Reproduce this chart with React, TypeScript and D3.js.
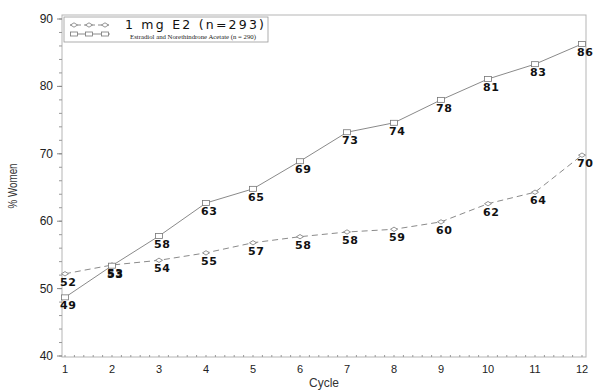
import React, { useEffect, useRef } from 'react'
import * as d3 from 'd3'

// cycles on the x axis
const cycles = [1, 2, 3, 4, 5, 6, 7, 8, 9, 10, 11, 12]

// 1 mg E2 (dashed, diamonds)
const e2Values = [52.2, 53.5, 54.2, 55.3, 56.8, 57.7, 58.4, 58.8, 59.9, 62.6, 64.3, 69.8]
const e2Labels = ['52', '53', '54', '55', '57', '58', '58', '59', '60', '62', '64', '70']

// Estradiol and Norethindrone Acetate (solid, squares)
const netaValues = [48.7, 53.4, 57.8, 62.7, 64.8, 68.9, 73.2, 74.6, 78.0, 81.1, 83.3, 86.3]
const netaLabels = ['49', '53', '58', '63', '65', '69', '73', '74', '78', '81', '83', '86']

const yTicks = [40, 50, 60, 70, 80, 90]

const App = () => {
  const ref = useRef<SVGSVGElement>(null)

  useEffect(() => {
    const svg = d3.select(ref.current)
    svg.selectAll('*').remove()

    const left = 62, right = 586, top = 15, bottom = 357
    const x = d3.scaleLinear().domain([1, 12]).range([65, 582])
    const y = d3.scaleLinear().domain([40, 90]).range([356, 19])
    const grey = '#8a8a8a'
    const sans = '"Liberation Sans", Arial, sans-serif'
    const wide = '"DejaVu Sans", Verdana, sans-serif'

    // frame
    svg.append('rect')
      .attr('x', left).attr('y', top)
      .attr('width', right - left).attr('height', bottom - top)
      .attr('fill', 'none').attr('stroke', '#b5b5b5').attr('stroke-width', 1)

    // y axis
    const yAxis = svg.append('g').attr('transform', `translate(${left},0)`)
    yAxis.selectAll('.minor').data(d3.range(40, 91, 2)).join('line')
      .attr('x1', -3).attr('x2', 0)
      .attr('y1', d => y(d)).attr('y2', d => y(d))
      .attr('stroke', '#999')
    yAxis.selectAll('.major').data(yTicks).join('line')
      .attr('x1', -5).attr('x2', 0)
      .attr('y1', d => y(d)).attr('y2', d => y(d))
      .attr('stroke', '#888')
    yAxis.selectAll('text').data(yTicks).join('text')
      .attr('x', -9).attr('y', d => y(d) + 4)
      .attr('text-anchor', 'end')
      .style('font-family', sans).style('font-size', '12px').attr('fill', '#222')
      .text(d => d)

    // x axis
    const xAxis = svg.append('g').attr('transform', `translate(0,${bottom})`)
    xAxis.selectAll('.minor').data(d3.range(1, 12.01, 0.2)).join('line')
      .attr('x1', d => x(d)).attr('x2', d => x(d))
      .attr('y1', 0).attr('y2', -2)
      .attr('stroke', '#999')
    xAxis.selectAll('text').data(cycles).join('text')
      .attr('x', d => x(d)).attr('y', 16)
      .attr('text-anchor', 'middle')
      .style('font-family', sans).style('font-size', '11px').attr('fill', '#222')
      .text(d => d)

    // axis titles
    svg.append('text')
      .attr('x', (left + right) / 2).attr('y', 387)
      .attr('text-anchor', 'middle')
      .style('font-family', sans).style('font-size', '12px').attr('fill', '#333')
      .text('Cycle')
    svg.append('text')
      .attr('transform', 'translate(17,186) rotate(-90) scale(0.82,1)')
      .attr('text-anchor', 'middle')
      .style('font-family', sans)
      .style('font-size', '12px').attr('fill', '#333')
      .text('% Women')

    const line = d3.line<number>().x((d, i) => x(cycles[i])).y(d => y(d))

    // series lines
    svg.append('path').datum(e2Values).attr('d', line)
      .attr('fill', 'none').attr('stroke', grey).attr('stroke-width', 1)
      .attr('stroke-dasharray', '6,4')
    svg.append('path').datum(netaValues).attr('d', line)
      .attr('fill', 'none').attr('stroke', grey).attr('stroke-width', 1)

    const diamond = (cx: number, cy: number) =>
      `M${cx - 3.5},${cy} L${cx},${cy - 2.2} L${cx + 3.5},${cy} L${cx},${cy + 2.2} Z`

    // markers
    svg.append('g').selectAll('path').data(e2Values).join('path')
      .attr('d', (d, i) => diamond(x(cycles[i]), y(d)))
      .attr('fill', 'white').attr('stroke', '#777').attr('stroke-width', 0.8)
    svg.append('g').selectAll('rect').data(netaValues).join('rect')
      .attr('x', (d, i) => x(cycles[i]) - 3.5).attr('y', d => y(d) - 2.5)
      .attr('width', 7).attr('height', 5)
      .attr('fill', 'white').attr('stroke', '#777').attr('stroke-width', 0.8)

    // value labels
    const addLabels = (values: number[], labels: string[]) => {
      svg.append('g').selectAll('text').data(values).join('text')
        .attr('x', (d, i) => x(cycles[i]) - 5).attr('y', d => y(d) + 12)
        .style('font-family', wide).style('font-size', '11px').style('font-weight', 'bold')
        .style('letter-spacing', '0.6px')
        .attr('fill', '#111')
        .text((d, i) => labels[i])
    }
    addLabels(e2Values, e2Labels)
    addLabels(netaValues, netaLabels)

    // legend
    const lg = svg.append('g')
    lg.append('rect')
      .attr('x', 64).attr('y', 17).attr('width', 204).attr('height', 25)
      .attr('fill', 'white').attr('stroke', '#999').attr('stroke-width', 0.8)
    const lx = [74, 89, 105]
    lg.append('line').attr('x1', 70).attr('x2', 110).attr('y1', 25).attr('y2', 25)
      .attr('stroke', grey).attr('stroke-dasharray', '4,3')
    lg.selectAll('.ld').data(lx).join('path')
      .attr('d', d => diamond(d, 25))
      .attr('fill', 'white').attr('stroke', '#777').attr('stroke-width', 0.8)
    lg.append('line').attr('x1', 70).attr('x2', 110).attr('y1', 34).attr('y2', 34)
      .attr('stroke', grey)
    lg.selectAll('.ls').data(lx).join('rect')
      .attr('x', d => d - 3.5).attr('y', 32).attr('width', 7).attr('height', 4)
      .attr('fill', 'white').attr('stroke', '#777').attr('stroke-width', 0.8)
    lg.append('text')
      .attr('x', 125).attr('y', 29)
      .attr('textLength', 139).attr('lengthAdjust', 'spacing')
      .style('font-family', wide).style('font-size', '12.5px')
      .attr('fill', '#111')
      .text('1 mg E2 (n=293)')
    lg.append('text')
      .attr('x', 130).attr('y', 38.5)
      .attr('textLength', 126).attr('lengthAdjust', 'spacingAndGlyphs')
      .style('font-family', '"Liberation Serif", "Times New Roman", serif')
      .style('font-size', '7px').attr('fill', '#222')
      .text('Estradiol and Norethindrone Acetate (n = 290)')
  }, [])

  return (
    <svg ref={ref} width={600} height={392}
      style={{ position: 'absolute', left: 0, top: 0, background: 'white' }} />
  )
}

export default App
